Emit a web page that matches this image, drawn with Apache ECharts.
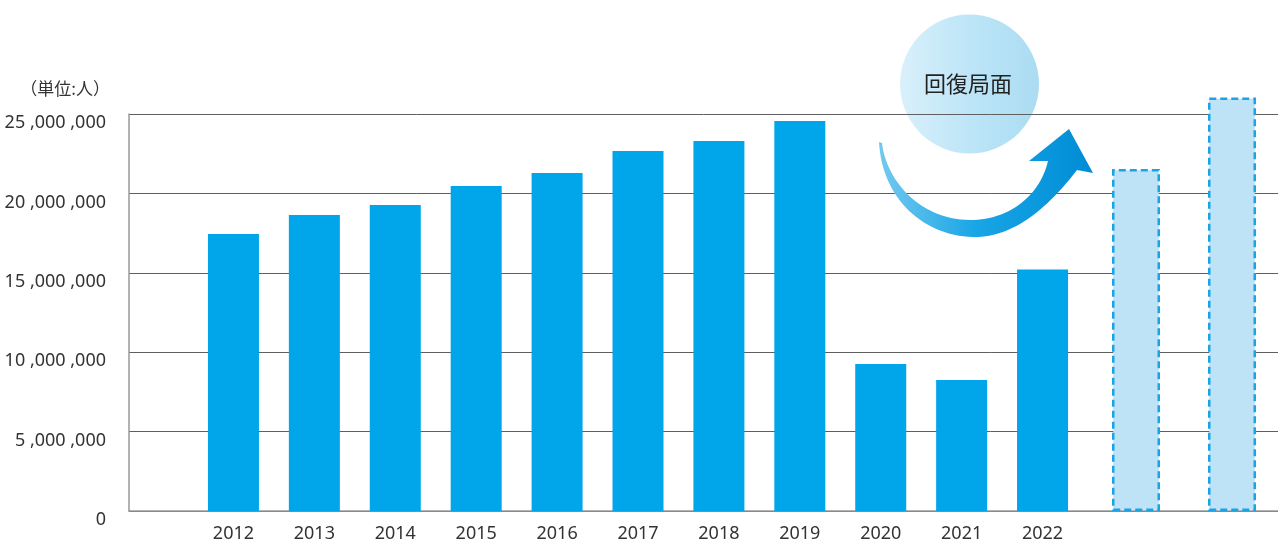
<!DOCTYPE html>
<html>
<head>
<meta charset="utf-8">
<script src="https://cdn.jsdelivr.net/npm/echarts@6/dist/echarts.min.js"></script>
<style>
html,body{margin:0;padding:0;background:#fff;}
#c{width:1278px;height:539px;}
</style>
</head>
<body>
<div id="c"></div>
<script>
const years = ['2012','2013','2014','2015','2016','2017','2018','2019','2020','2021','2022'];
const visitors = [17440000, 18640000, 19270000, 20470000, 21280000, 22670000, 23300000, 24560000, 9260000, 8250000, 15210000];
const forecastSlots = ['', ''];
const forecast = [21540000, 26040000];
const yTicks = [0, 5000000, 10000000, 15000000, 20000000, 25000000];
const unitLabel = '（単位:人）';
const badgeLabel = '回復局面';

const numFont = '"Noto Sans", "Open Sans", sans-serif';
const cjkFont = '"Noto Sans CJK JP", "Noto Sans", sans-serif';

function fmt(v) {
  if (v === 0) return '0';
  const s = String(Math.round(v));
  const parts = [];
  for (let i = s.length; i > 0; i -= 3) parts.unshift(s.slice(Math.max(0, i - 3), i));
  return parts.join(' ,');
}

// decorative arrow outline (sampled cubic curves)
function cubic(p0, p1, p2, p3, n) {
  const out = [];
  for (let i = 0; i <= n; i++) {
    const t = i / n, u = 1 - t;
    out.push([
      u*u*u*p0[0] + 3*u*u*t*p1[0] + 3*u*t*t*p2[0] + t*t*t*p3[0],
      u*u*u*p0[1] + 3*u*u*t*p1[1] + 3*u*t*t*p2[1] + t*t*t*p3[1]
    ]);
  }
  return out;
}
const arrowPts = [].concat(
  cubic([879,142],[882,200],[925,236],[973,237], 30),
  cubic([973,237],[1015,238],[1050,205],[1077,170], 30).slice(1),
  [[1093,173],[1069,129],[1029,161],[1048,161]],
  cubic([1048,161],[1040,195],[1010,220],[970,220], 30).slice(1),
  cubic([970,220],[920,220],[886,180],[882,143], 30).slice(1)
);

const yMin = yTicks[0], yMax = yTicks[yTicks.length - 1], yStep = yTicks[1] - yTicks[0];
const gTop = 114, gBottom = 28;
const gridBase = {top: gTop, bottom: gBottom, containLabel: false, outerBoundsMode: 'none'};

const chart = echarts.init(document.getElementById('c'), null, {renderer: 'canvas'});
chart.setOption({
  animation: false,
  grid: [
    Object.assign({left: 129, right: 0}, gridBase),
    Object.assign({left: 193, width: 890}, gridBase),
    Object.assign({left: 1088, width: 192}, gridBase)
  ],
  xAxis: [
    {gridIndex: 0, type: 'category', data: [''], axisLine: {show: true, lineStyle: {color: '#999', width: 1.5}},
     axisTick: {show: false}, axisLabel: {show: false}},
    {gridIndex: 1, type: 'category', data: years, axisLine: {show: false}, axisTick: {show: false},
     axisLabel: {color: '#333', fontFamily: numFont, fontSize: 18, margin: 14}},
    {gridIndex: 2, type: 'category', data: forecastSlots, show: false}
  ],
  yAxis: [
    {gridIndex: 0, type: 'value', min: yMin, max: yMax, interval: yStep,
     axisLine: {show: true, lineStyle: {color: '#999', width: 1.5}}, axisTick: {show: false},
     splitLine: {lineStyle: {color: '#5f5f5f', width: 1}},
     axisLabel: {color: '#333', fontFamily: numFont, fontSize: 18, margin: 23, verticalAlign: 'top', formatter: fmt}},
    {gridIndex: 1, type: 'value', min: yMin, max: yMax, interval: yStep, show: false, splitLine: {show: false}},
    {gridIndex: 2, type: 'value', min: yMin, max: yMax, interval: yStep, show: false, splitLine: {show: false}}
  ],
  series: [
    {type: 'bar', xAxisIndex: 1, yAxisIndex: 1, data: visitors, barWidth: 51, clip: false,
     itemStyle: {color: '#00a6e9'}},
    {type: 'bar', xAxisIndex: 2, yAxisIndex: 2, data: forecast, barWidth: 48, clip: false,
     itemStyle: {color: '#bee3f7', borderColor: '#1aa4e8', borderWidth: 2.5, borderType: [7, 4]}}
  ],
  graphic: [
    {type: 'text', z: 10, x: 110, y: 89,
     style: {text: unitLabel, fill: '#333', font: '17px ' + cjkFont, align: 'right', verticalAlign: 'middle'}},
    {type: 'circle', z: -10, shape: {cx: 969.5, cy: 84, r: 69.5},
     style: {fill: new echarts.graphic.LinearGradient(0, 0, 1, 0, [
       {offset: 0, color: '#d9f0fb'}, {offset: 0.5, color: '#bde5f7'}, {offset: 1, color: '#abdcf2'}])}},
    {type: 'text', z: 20, x: 968, y: 84,
     style: {text: badgeLabel, fill: '#222', font: '22px ' + cjkFont, align: 'center', verticalAlign: 'middle'}},
    {type: 'polygon', z: 30, shape: {points: arrowPts},
     style: {fill: new echarts.graphic.LinearGradient(0, 0, 1, 0, [
       {offset: 0, color: '#74c9ef'}, {offset: 0.45, color: '#19a6e6'}, {offset: 1, color: '#008cd5'}])}}
  ]
});
</script>
</body>
</html>
